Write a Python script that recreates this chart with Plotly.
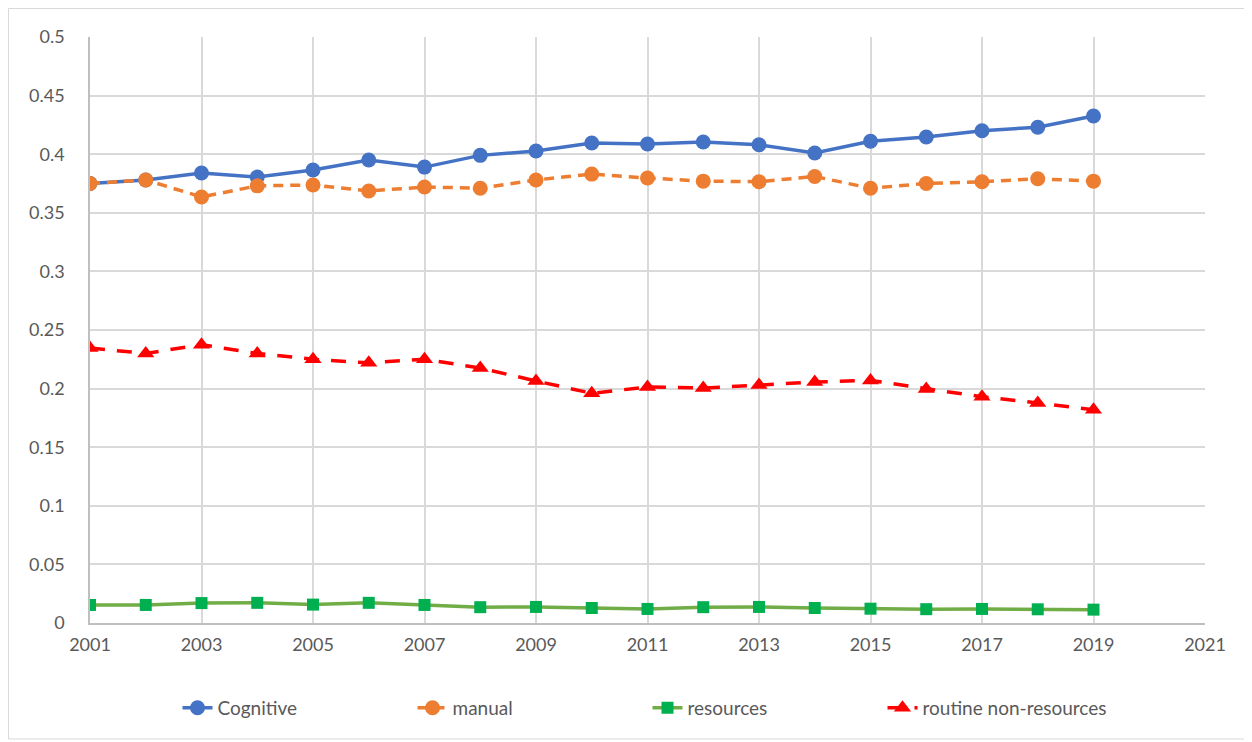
import plotly.graph_objects as go

years = list(range(2001, 2020))
cognitive = [0.375, 0.378, 0.384, 0.3805, 0.3865, 0.395, 0.389, 0.399, 0.4027, 0.4096,
             0.4087, 0.4104, 0.408, 0.401, 0.411, 0.4147, 0.42, 0.423, 0.4326]
manual = [0.375, 0.378, 0.3635, 0.373, 0.3737, 0.3686, 0.372, 0.371, 0.378, 0.383,
          0.3797, 0.377, 0.3765, 0.381, 0.371, 0.375, 0.3765, 0.379, 0.377]
resources = [0.0154, 0.0154, 0.017, 0.0172, 0.0157, 0.0172, 0.0154, 0.0135, 0.0137, 0.0128,
             0.012, 0.0135, 0.0137, 0.0128, 0.0122, 0.0118, 0.012, 0.0117, 0.0114]
routine = [0.2346, 0.230, 0.2375, 0.230, 0.225, 0.222, 0.225, 0.2176, 0.2065, 0.196,
           0.2014, 0.2005, 0.203, 0.2056, 0.207, 0.1997, 0.193, 0.1877, 0.182]

x_ticks = list(range(2001, 2022, 2))
y_ticks = [0, 0.05, 0.1, 0.15, 0.2, 0.25, 0.3, 0.35, 0.4, 0.45, 0.5]
y_tick_text = ["0", "0.05", "0.1", "0.15", "0.2", "0.25", "0.3", "0.35", "0.4", "0.45", "0.5"]

fig = go.Figure()
fig.add_trace(go.Scatter(x=years, y=cognitive, name="Cognitive", mode="lines+markers",
                         line=dict(color="#4472C4", width=3.5),
                         marker=dict(symbol="circle", size=15, color="#4472C4")))
fig.add_trace(go.Scatter(x=years, y=manual, name="manual", mode="lines+markers",
                         line=dict(color="#ED7D31", width=3.5, dash="10px,7px"),
                         marker=dict(symbol="circle", size=15, color="#ED7D31")))
fig.add_trace(go.Scatter(x=years, y=resources, name="resources", mode="lines+markers",
                         line=dict(color="#70AD47", width=3.5),
                         marker=dict(symbol="square", size=12, color="#00B050")))
fig.add_trace(go.Scatter(x=years, y=routine, name="routine non-resources", mode="lines+markers",
                         line=dict(color="#FF0000", width=3.5, dash="15px,12px"),
                         marker=dict(symbol="triangle-up", size=15, color="#FF0000")))

L, R, T, B = 82, 55, 29, 127
fig.update_layout(
    width=1252, height=742,
    margin=dict(l=L, r=R, t=T, b=B),
    paper_bgcolor="white", plot_bgcolor="white",
    font=dict(family="Lato, Liberation Sans, sans-serif", size=18, color="#595959"),
    legend=dict(orientation="h", x=0.5, xanchor="center", y=-0.145, yanchor="middle",
                font=dict(size=19, color="#595959"), entrywidth=190, entrywidthmode="pixels"),
    showlegend=True,
)
fig.update_xaxes(range=[2001, 2021], tickvals=x_ticks, showgrid=True, gridcolor="#D9D9D9",
                 gridwidth=1.5, showline=True, linecolor="#BFBFBF", linewidth=1.5,
                 zeroline=False, ticks="", ticklabelstandoff=5,
                 tickfont=dict(size=18, color="#595959"))
fig.update_yaxes(range=[0, 0.5], tickvals=y_ticks, ticktext=y_tick_text, showgrid=True,
                 gridcolor="#D9D9D9", gridwidth=1.5, showline=True, linecolor="#BFBFBF",
                 linewidth=1.5, zeroline=False, ticks="", ticklabelstandoff=20,
                 tickfont=dict(size=18, color="#595959"))

# outer chart frame
pw = 1252 - L - R
ph = 742 - T - B
fig.add_shape(type="rect", xref="paper", yref="paper",
              x0=(0.5 - L) / pw, x1=(1241 - L) / pw,
              y0=(742 - B - 731) / ph, y1=(742 - B - 0.5) / ph,
              line=dict(color="#D9D9D9", width=1), layer="below")

fig.write_html("out.html")
